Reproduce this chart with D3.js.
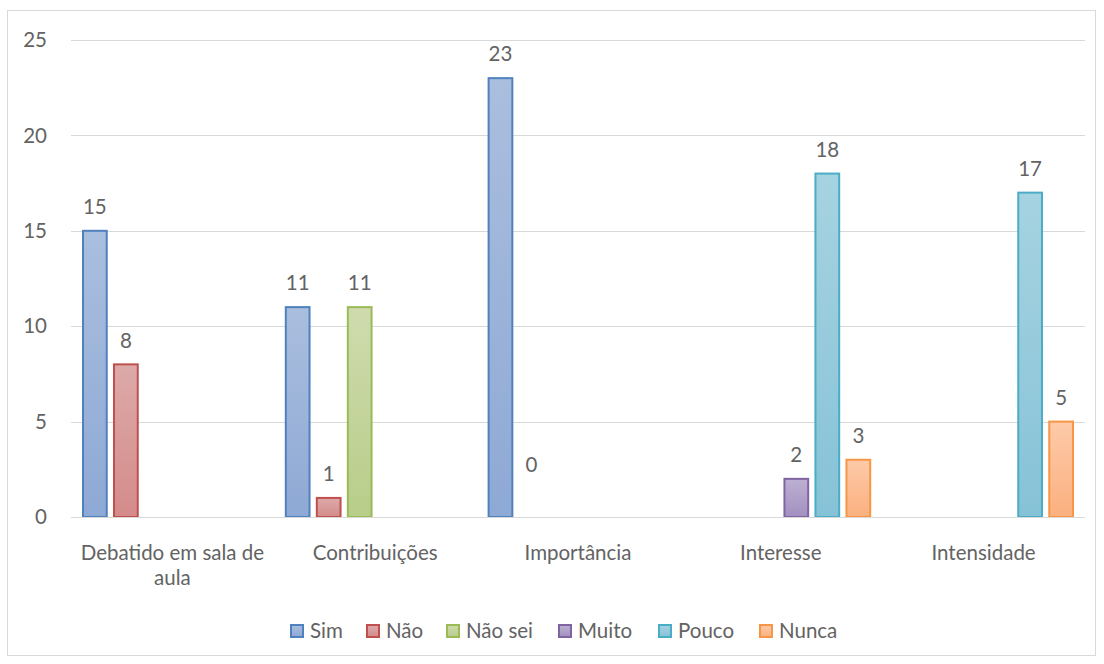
<!DOCTYPE html>
<html><head><meta charset="utf-8">
<script src="https://cdn.jsdelivr.net/npm/d3@7"></script>
<style>body{margin:0;background:#fff}</style>
</head><body><svg id="c" width="1104" height="664"></svg>
<script>
const categories = [["Debatido em sala de","aula"],["Contribuições"],["Importância"],["Interesse"],["Intensidade"]];
const series = ["Sim","Não","Não sei","Muito","Pouco","Nunca"];
const sim    = [15, 11, 23, null, null];
const nao    = [8, 1, 0, null, null];
const naoSei = [null, 11, null, null, null];
const muito  = [null, null, null, 2, null];
const pouco  = [null, null, null, 18, 17];
const nunca  = [null, null, null, 3, 5];
const yTicks = [0,5,10,15,20,25];
const strokes = ["#4f81bd","#c0504d","#9bbb59","#8064a2","#4bacc6","#f79646"];
const fillTop = ["#aabede","#dcaaa9","#cfdbae","#bdb0d2","#a6d3e1","#fdcaa8"];
const fillBot = ["#8ea9d5","#d48b8a","#b8cd89","#a290c0","#86c2d7","#fbb07f"];
const values = [sim, nao, naoSei, muito, pouco, nunca];

(function(){
const svg = d3.select("#c");
const font = "Lato, 'Open Sans', sans-serif";
const fs = 20.5;
const txt = "#636363";
svg.append("rect").attr("x",7.5).attr("y",10.5).attr("width",1088).attr("height",645)
  .attr("fill","#fff").attr("stroke","#d9d9d9");

const pLeft=71, pRight=1085, pTop=40, pBottom=517;
const y = d3.scaleLinear().domain([0,25]).range([pBottom,pTop]);
const x0 = d3.scaleBand().domain(d3.range(categories.length)).range([pLeft,pRight]);
const x1 = d3.scaleBand().domain(series).range([11, x0.bandwidth()-11]).paddingInner(0.17);

const defs = svg.append("defs");
series.forEach((s,i)=>{
  const g = defs.append("linearGradient").attr("id","g"+i).attr("x1",0).attr("y1",0).attr("x2",0).attr("y2",1);
  g.append("stop").attr("offset","0%").attr("stop-color",fillTop[i]);
  g.append("stop").attr("offset","100%").attr("stop-color",fillBot[i]);
});

svg.append("g").selectAll("line").data(yTicks).join("line")
  .attr("x1",pLeft).attr("x2",pRight).attr("y1",d=>Math.round(y(d))+0.5).attr("y2",d=>Math.round(y(d))+0.5)
  .attr("stroke","#d9d9d9").attr("stroke-width",1);
svg.append("g").selectAll("text").data(yTicks).join("text")
  .attr("x",47).attr("y",d=>y(d)).attr("dy","0.35em").attr("text-anchor","end")
  .attr("font-family",font).attr("font-size",fs).attr("fill",txt).text(d=>d);

const bars=[];
values.forEach((arr,si)=>arr.forEach((v,ci)=>{ if(v!==null) bars.push({si,ci,v}); }));
svg.append("g").selectAll("rect").data(bars).join("rect")
  .attr("x",d=>x0(d.ci)+x1(series[d.si])+1)
  .attr("y",d=>y(d.v))
  .attr("width",x1.bandwidth()-2)
  .attr("height",d=>y(0)-y(d.v))
  .attr("fill",d=>"url(#g"+d.si+")")
  .attr("stroke",d=>strokes[d.si]).attr("stroke-width",2);
svg.append("g").selectAll("text").data(bars).join("text")
  .attr("x",d=>x0(d.ci)+x1(series[d.si])+x1.bandwidth()/2)
  .attr("y",d=>d.v===0 ? y(0)-52 : y(d.v)-24)
  .attr("dy","0.35em").attr("text-anchor","middle")
  .attr("font-family",font).attr("font-size",fs).attr("fill",txt).text(d=>d.v);

svg.append("line").attr("x1",pLeft).attr("x2",pRight).attr("y1",pBottom+0.5).attr("y2",pBottom+0.5).attr("stroke","#d9d9d9");

const cl = svg.append("g").selectAll("text").data(categories).join("text")
  .attr("x",(d,i)=>x0(i)+x0.bandwidth()/2).attr("y",553)
  .attr("text-anchor","middle").attr("font-family",font).attr("font-size",fs).attr("fill",txt);
cl.each(function(d){
  const t=d3.select(this);
  d.forEach((line,k)=>t.append("tspan").attr("x",t.attr("x")).attr("dy",k===0?"0.35em":"25px").text(line));
});

const legX = [290,366,446,558,658,759];
const lg = svg.append("g").selectAll("g").data(series).join("g")
  .attr("transform",(d,i)=>`translate(${legX[i]},631)`);
lg.append("rect").attr("x",1).attr("y",-6).attr("width",12).attr("height",12)
  .attr("fill",(d,i)=>"url(#g"+i+")").attr("stroke",(d,i)=>strokes[i]).attr("stroke-width",2);
lg.append("text").attr("x",20).attr("y",0).attr("dy","0.35em")
  .attr("font-family",font).attr("font-size",fs).attr("fill",txt).text(d=>d);
})();
</script></body></html>
